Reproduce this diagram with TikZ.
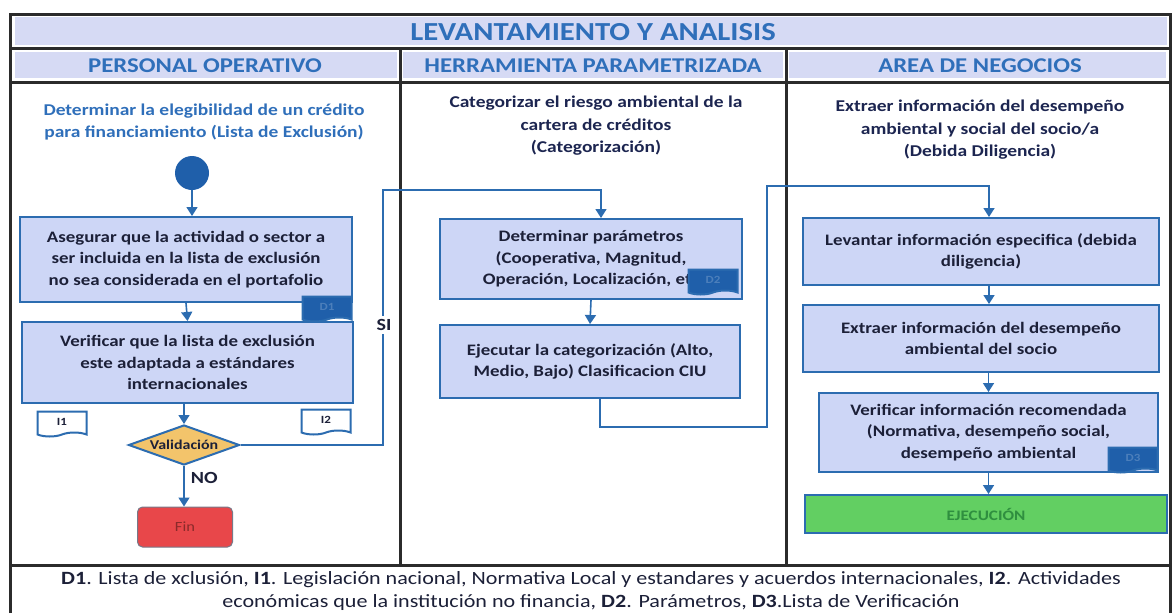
\documentclass[tikz,border=0pt]{standalone}
\usepackage{fontspec}
\setmainfont{Carlito}[FakeStretch=1.18]
\usetikzlibrary{arrows.meta,shapes.geometric,shapes.symbols}
\definecolor{frameg}{HTML}{2B2B2B}
\definecolor{lav}{HTML}{D6DAF4}
\definecolor{titleblue}{HTML}{2F6FBA}
\definecolor{boxfill}{HTML}{CDD6F6}
\definecolor{boxline}{HTML}{2C6CB0}
\definecolor{boxtext}{HTML}{1C2038}
\definecolor{navy}{HTML}{1C2550}
\definecolor{docfill}{HTML}{1F5FAA}
\definecolor{valfill}{HTML}{F3C46B}
\definecolor{finfill}{HTML}{E8474A}
\definecolor{fintext}{HTML}{8A2A2A}
\definecolor{exefill}{HTML}{62CF62}
\definecolor{exetext}{HTML}{2F8F3F}

\begin{document}
\begin{tikzpicture}[x=1pt,y=-1pt]
    \tikzstyle{every node}+=[inner sep=0pt]
    \tikzstyle{rule}=[frameg, line width=3pt]
    \tikzstyle{head}=[text=titleblue, font=\fontsize{21}{24}\selectfont\bfseries]
    \tikzstyle{lead}=[align=center, font=\fontsize{16.5}{22.5}\selectfont\bfseries]
    \tikzstyle{stepbox}=[draw=boxline, line width=2pt, fill=boxfill, align=center, text=boxtext, font=\fontsize{16}{21.5}\selectfont\bfseries]
    \tikzstyle{docbox}=[tape, tape bend top=none, tape bend bottom=in and out, tape bend height=4pt, draw=boxline, line width=2pt, minimum width=49, minimum height=25, font=\fontsize{11}{12}\selectfont\bfseries]
    \tikzstyle{link}=[boxline, line width=1.6pt, -{Triangle[width=11pt,length=9pt]}]
    \tikzstyle{flag}=[fill=white, inner sep=3pt, text=boxtext, font=\fontsize{17}{20}\selectfont\bfseries]
    \useasboundingbox (0,0) rectangle (1174,613);
    \fill [white] (0,0) rectangle (1174,613);
    % bands
    \fill [lav] (15,17) rectangle (1167,45);
    \fill [lav] (15,52) rectangle (397,78);
    \fill [lav] (403,52) rectangle (783,78);
    \fill [lav] (789,52) rectangle (1166,78);
    \draw [rule] (10,613) -- (10,14) -- (1170,14) -- (1170,613);
    \draw [rule] (10,48) -- (1170,48);
    \draw [rule] (10,82) -- (1170,82);
    \draw [rule] (10,565) -- (1170,565);
    \draw [rule] (400,48) -- (400,565);
    \draw [rule] (786,48) -- (786,565);
    \node [text=titleblue, font=\fontsize{26}{28}\selectfont\bfseries] (title) at (593,32) {LEVANTAMIENTO Y ANALISIS};
    \node [head] (colop) at (205,66) {PERSONAL OPERATIVO};
    \node [head] (colhp) at (593,66) {HERRAMIENTA PARAMETRIZADA};
    \node [head] (colan) at (980,66) {AREA DE NEGOCIOS};
    \node [lead, text=titleblue] (leadop) at (204,122) {Determinar la elegibilidad de un crédito\\para financiamiento (Lista de Exclusión)};
    \node [lead, text=navy] (leadhp) at (596,126) {Categorizar el riesgo ambiental de la\\cartera de créditos\\(Categorización)};
    \node [lead, text=navy] (leadan) at (980,130) {Extraer información del desempeño\\ambiental y social del socio/a\\(Debida Diligencia)};
    % personal operativo
    \node [circle, fill=docfill, minimum size=34] (start) at (192,173) {};
    \node [stepbox, minimum width=332, minimum height=85] (b1) at (186,259.5) {Asegurar que la actividad o sector a\\ser incluida en la lista de exclusión\\no sea considerada en el portafolio};
    \node [stepbox, minimum width=331, minimum height=81] (b2) at (187.5,362.5) {Verificar que la lista de exclusión\\este adaptada a estándares\\internacionales};
    \node [docbox, fill=docfill, text=docfill!80!white] (d1) at (327,307) {D1};
    \node [docbox, fill=white, text=boxtext] (i1) at (62,422) {I1};
    \node [docbox, fill=white, text=boxtext] (i2) at (326,420) {I2};
    \node [diamond, aspect=3.2, draw=boxline, line width=2pt, fill=valfill, minimum width=111, minimum height=40, text=boxtext, font=\fontsize{13.5}{14}\selectfont\bfseries] (val) at (184,445) {Validación};
    \node [rounded corners=5pt, draw=boxtext!60, line width=1pt, fill=finfill, minimum width=95, minimum height=40, text=fintext, font=\fontsize{14}{16}\selectfont] (fin) at (185,527) {Fin};
    \draw [link] (start.south) -- (start.south |- b1.north);
    \draw [link] (b1.south) -- (b2.north);
    \draw [link] (val.north |- b2.south) -- (val.north);
    \draw [link] (val.south) -- (val.south |- fin.north) node [pos=0.3, right=6pt, text=boxtext, font=\fontsize{17}{20}\selectfont\bfseries] {NO};
    % herramienta parametrizada
    \node [stepbox, minimum width=302, minimum height=80] (b3) at (591,259) {Determinar parámetros\\(Cooperativa, Magnitud,\\Operación, Localización, etc};
    \node [docbox, fill=docfill, text=docfill!80!white] (d2) at (713,280) {D2};
    \node [stepbox, minimum width=300, minimum height=73] (b4) at (590,361.5) {Ejecutar la categorización (Alto,\\Medio, Bajo) Clasificacion CIU};
    \coordinate (siup) at (383,190);
    \draw [link] (val.east) -| (siup) -| ([xshift=10pt]b3.north);
    \node [flag] (si) at (384,325) {SI};
    \draw [link] (b3.south) -- (b4.north);
    % area de negocios
    \node [stepbox, minimum width=356, minimum height=67] (b5) at (981,251.5) {Levantar información especifica (debida\\diligencia)};
    \node [stepbox, minimum width=356, minimum height=67] (b6) at (981,338.5) {Extraer información del desempeño\\ambiental del socio};
    \node [stepbox, minimum width=339, minimum height=79] (b7) at (988.5,432.5) {Verificar información recomendada\\(Normativa, desempeño social,\\desempeño ambiental};
    \node [docbox, fill=docfill, text=docfill!80!white] (d3) at (1133,458) {D3};
    \node [draw=boxline, line width=2pt, fill=exefill, minimum width=362, minimum height=38, text=exetext, font=\fontsize{14.5}{16}\selectfont\bfseries] (exe) at (986,514) {EJECUCIÓN};
    \coordinate (loopa) at (767,427);
    \coordinate (loopb) at (767,186);
    \draw [link] ([xshift=10pt]b4.south) |- (loopa) -- (loopb) -| ([xshift=8pt]b5.north);
    \draw [link] ([xshift=8pt]b5.south) -- ([xshift=8pt]b6.north);
    \draw [link] (b7.north |- b6.south) -- (b7.north);
    \draw [link] (b7.south) -- (b7.south |- exe.north);
    % legend
    \node [align=center, text=boxtext, font=\fontsize{18.7}{23.5}\selectfont] (legend) at (591,591) {\textbf{D1}. Lista de xclusión, \textbf{I1}. Legislación nacional, Normativa Local y estandares y acuerdos internacionales, \textbf{I2}. Actividades\\económicas que la institución no financia, \textbf{D2}. Parámetros, \textbf{D3}.Lista de Verificación};
\end{tikzpicture}
\end{document}
